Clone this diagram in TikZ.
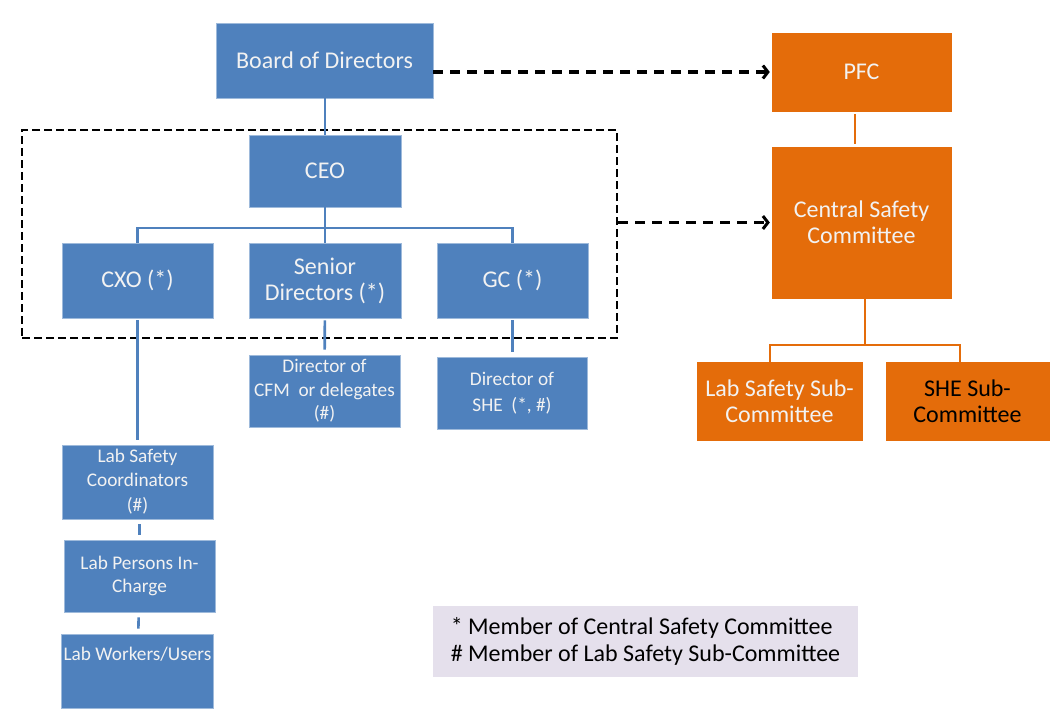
\documentclass[tikz,border=0pt]{standalone}
\usepackage{fontspec}
\setmainfont{Carlito}
\usetikzlibrary{arrows.meta, positioning, fit, backgrounds}

\definecolor{officeblue}{RGB}{79,129,189}
\definecolor{officeorange}{RGB}{228,108,10}
\definecolor{legendbg}{RGB}{229,224,236}

\begin{document}
\begin{tikzpicture}[
    x=1pt, y=-1pt,
    box/.style={rectangle, inner sep=2pt, align=center, text=white!95!black},
    bigtext/.style={font=\fontsize{24}{26}\selectfont},
    smalltext/.style={font=\fontsize{19.3}{23.5}\selectfont},
    staff/.style={box, fill=officeblue, draw=officeblue!55!white, line width=0.7pt},
    panel/.style={box, fill=officeorange, draw=officeorange, bigtext},
    groupbox/.style={rectangle, draw, dash pattern=on 8pt off 4pt, line width=2.6pt},
    bluelink/.style={draw=officeblue, line width=2.6pt},
    orangelink/.style={draw=officeorange, line width=2.8pt},
    dasharrow/.style={-{Straight Barb[length=5pt, width=13pt, line width=3pt]}, dash pattern=on 10pt off 7pt, line width=3.2pt},
    keybox/.style={rectangle, fill=legendbg, align=left, font=\fontsize{24}{27}\selectfont},
]
\useasboundingbox (0,0) rectangle (1062,720);

% Board and management group
\node[staff, bigtext, minimum width=217pt, minimum height=75pt] (board) at (324.5, 60.5) {Board of Directors};
\node[groupbox, minimum width=595pt, minimum height=208pt] (mgmt) at (319.5, 234) {};
\node[staff, bigtext, minimum width=152pt, minimum height=72pt] (ceo) at (325, 171) {CEO};
\node[staff, bigtext, minimum width=151pt, minimum height=75pt] (cxo) at (137.5, 280.5) {CXO (*)};
\node[staff, bigtext, minimum width=152pt, minimum height=75pt] (senior) at (325, 280.5) {Senior\\Directors (*)};
\node[staff, bigtext, minimum width=151pt, minimum height=75pt] (gc) at (512.5, 280.5) {GC (*)};

% Directors below
\node[staff, smalltext, minimum width=151pt, minimum height=72pt] (cfm) at (324.5, 391) {Director of\\CFM\ \ or delegates\\(\#)};
\node[staff, smalltext, minimum width=150pt, minimum height=72pt] (she) at (512, 393) {Director of\\[3pt]SHE\ \ (*, \#)};

% Lab chain
\node[staff, smalltext, minimum width=151pt, minimum height=74pt] (lsc) at (137.5, 482) {Lab Safety\\Coordinators\\[2pt](\#)};
\node[staff, smalltext, minimum width=151pt, minimum height=72pt] (lpic) at (139.5, 576) {Lab Persons In-\\Charge};
\node[staff, smalltext, minimum width=151pt, minimum height=74pt] (lwu) at (137.5, 671) {Lab Workers/Users\\[4pt]\strut};

% Committees
\node[panel, minimum width=179pt, minimum height=78pt] (pfc) at (861.5, 72) {PFC};
\node[panel, minimum width=179pt, minimum height=151pt] (csc) at (861.5, 222.5) {Central Safety\\Committee};
\node[panel, minimum width=165pt, minimum height=78pt] (labsub) at (779.5, 401) {Lab Safety Sub-\\Committee};
\node[panel, text=black, minimum width=163pt, minimum height=78pt] (shesub) at (967.5, 401) {SHE Sub-\\Committee};

% Legend
\node[keybox, minimum width=425pt, minimum height=71pt] (key) at (645.5, 641.5) {* Member of Central Safety Committee\\\# Member of Lab Safety Sub-Committee};

% Blue connectors
\coordinate (ceobus) at (325, 228);
\draw[bluelink] (ceo.north) -- (ceo.north |- board.south);
\draw[bluelink] (ceo.south) -- (ceobus);
\draw[bluelink] (cxo.north) |- (ceobus) -| (gc.north);
\draw[bluelink] (ceobus) -- (senior.north);
\draw[bluelink, shorten <=2pt, shorten >=5pt] (cxo) -- (lsc);
\draw[bluelink, shorten <=2pt, shorten >=5pt] (senior) -- (cfm);
\draw[bluelink, shorten <=2pt, shorten >=5pt] (gc.south) -- (gc.south |- she.north);
\draw[bluelink, shorten <=5pt, shorten >=5pt] (lpic.north |- lsc.south) -- (lpic.north);
\draw[bluelink, shorten <=5pt, shorten >=5pt] (lpic) -- (lwu);

% Orange connectors
\coordinate (cscbus) at (865, 345);
\draw[orangelink, shorten <=3pt, shorten >=3pt] (pfc.south -| 855, 0) -- (csc.north -| 855, 0);
\draw[orangelink] (cscbus |- csc.south) -- (cscbus);
\draw[orangelink] (labsub.north -| 770, 0) |- (cscbus) -| (shesub.north -| 960, 0);

% Dashed links
\draw[dasharrow, shorten >=2pt] (board.east |- pfc.west) -- (pfc.west);
\draw[dasharrow, shorten >=2pt] (mgmt.east |- csc.west) -- (csc.west);

\end{tikzpicture}
\end{document}
